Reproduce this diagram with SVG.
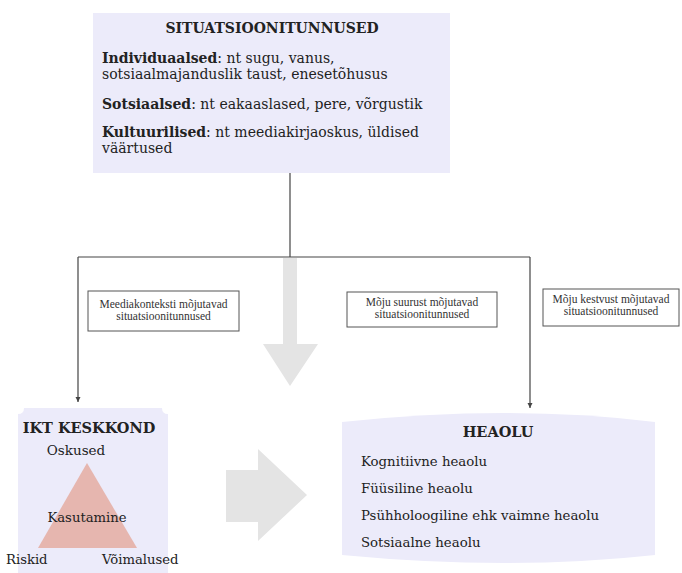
<svg xmlns="http://www.w3.org/2000/svg" width="682" height="573" viewBox="0 0 682 573">
<defs>
<style>
.panel{fill:#ECEBFA}
.lbl{fill:#fff;stroke:#555;stroke-width:1}
.ln{fill:none;stroke:#444;stroke-width:1.2}
.big{fill:#E4E4E4}
.t{font-family:"DejaVu Serif","Liberation Serif",serif;fill:#222}
.b{font-weight:bold}
.s{font-family:"Liberation Serif","DejaVu Serif",serif;font-size:11.5px;fill:#333}
</style>
<marker id="ah" markerWidth="6" markerHeight="6" refX="5" refY="3" orient="auto" markerUnits="userSpaceOnUse">
<path d="M0,0.5 L5,3 L0,5.5 Z" fill="#444"/>
</marker>
</defs>
<rect width="682" height="573" fill="#fff"/>

<g id="situatsioonitunnused">
<rect class="panel" x="93" y="13" width="357" height="160"/>
<text class="t b" x="272" y="33" font-size="14" text-anchor="middle">SITUATSIOONITUNNUSED</text>
<text class="t" x="102" y="63" font-size="14"><tspan class="b">Individuaalsed</tspan>: nt sugu, vanus,</text>
<text class="t" x="102" y="79" font-size="14">sotsiaalmajanduslik taust, enesetõhusus</text>
<text class="t" x="102" y="109" font-size="14"><tspan class="b">Sotsiaalsed</tspan>: nt eakaaslased, pere, võrgustik</text>
<text class="t" x="102" y="137" font-size="14"><tspan class="b">Kultuurilised</tspan>: nt meediakirjaoskus, üldised</text>
<text class="t" x="102" y="153" font-size="14">väärtused</text>
</g>

<g id="connectors">
<path class="ln" d="M290,173 V257"/>
<path class="ln" d="M78,257 H530"/>
<path class="ln" d="M78,257 V402" marker-end="url(#ah)"/>
<path class="ln" d="M530,257 V408" marker-end="url(#ah)"/>
</g>

<g id="arrow-down">
<polygon class="big" points="283,258 297,258 297,344 318,344 290,386 263,344 283,344"/>
</g>

<g id="label-meediakontekst">
<rect class="lbl" x="88" y="291" width="151" height="40"/>
<text class="s" x="163.5" y="308" text-anchor="middle">Meediakonteksti mõjutavad</text>
<text class="s" x="163.5" y="319.5" text-anchor="middle">situatsioonitunnused</text>
</g>

<g id="label-suurus">
<rect class="lbl" x="347" y="292" width="150" height="35"/>
<text class="s" x="422" y="306" text-anchor="middle">Mõju suurust mõjutavad</text>
<text class="s" x="422" y="317.5" text-anchor="middle">situatsioonitunnused</text>
</g>

<g id="label-kestvus">
<rect class="lbl" x="543" y="289" width="136" height="37"/>
<text class="s" x="611" y="303" text-anchor="middle">Mõju kestvust mõjutavad</text>
<text class="s" x="611" y="314.5" text-anchor="middle">situatsioonitunnused</text>
</g>

<g id="ikt-keskkond">
<path class="panel" d="M18,414 Q24,414 24,408 L162,408 Q162,414 168,414 L168,573 L18,573 Z"/>
<text class="t b" x="89" y="433" font-size="14.5" text-anchor="middle">IKT KESKKOND</text>
<text class="t" x="76" y="455" font-size="13.5" text-anchor="middle">Oskused</text>
<polygon points="87,463 137,548 38,548" fill="#E6B6AF"/>
<text class="t" x="87" y="522" font-size="13.2" text-anchor="middle">Kasutamine</text>
<text class="t" x="6" y="564" font-size="13.2">Riskid</text>
<text class="t" x="102" y="564" font-size="13.2">Võimalused</text>
</g>

<g id="arrow-right">
<polygon class="big" points="226,470 258,470 258,449 307,495 258,541 258,522 226,522"/>
</g>

<g id="heaolu">
<path class="panel" d="M342,422 Q510,404 655,422 L655,555 Q510,571 342,555 Z"/>
<text class="t b" x="498" y="437" font-size="14.5" text-anchor="middle">HEAOLU</text>
<text class="t" x="361" y="466" font-size="13.3">Kognitiivne heaolu</text>
<text class="t" x="361" y="493" font-size="13.3">Füüsiline heaolu</text>
<text class="t" x="361" y="520" font-size="13.3">Psühholoogiline ehk vaimne heaolu</text>
<text class="t" x="361" y="547" font-size="13.3">Sotsiaalne heaolu</text>
</g>
</svg>
